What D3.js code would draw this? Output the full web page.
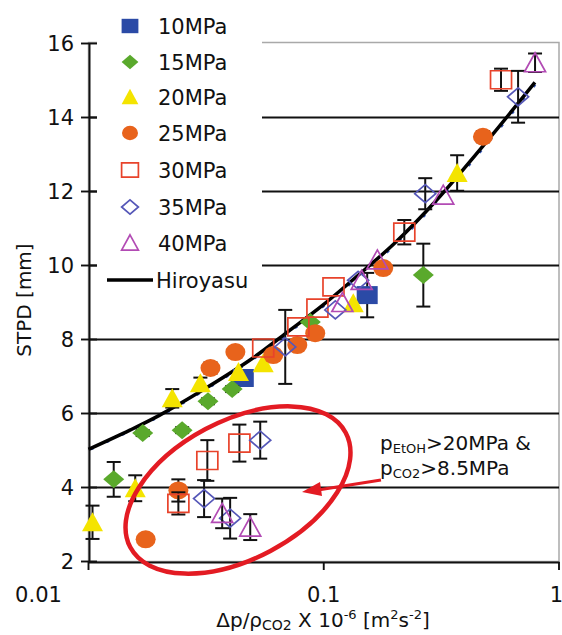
<!DOCTYPE html>
<html><head><meta charset="utf-8">
<script src="https://cdn.jsdelivr.net/npm/d3@7"></script>
<style>body{margin:0;background:#fff}svg{display:block}text{font-family:"DejaVu Sans",sans-serif;fill:#111}</style>
</head><body><svg id="c" width="562" height="635"></svg>
<script>
// ---------- data ----------
const seriesNames = ["10MPa","15MPa","20MPa","25MPa","30MPa","35MPa","40MPa"];
// each point: [Δp/ρ (x), STPD mm (y), error half-width]
const s10 = [[0.0455,6.96,0],[0.153,9.2,0.6]];
const s15 = [[0.0128,4.22,0.47],[0.0170,5.47,0.08],[0.025,5.55,0.08],[0.0322,6.33,0.08],[0.0408,6.66,0.08],[0.0877,8.47,0],[0.265,9.74,0.85]];
const s20 = [[0.0104,3.06,0.45],[0.0158,3.98,0.35],[0.0227,6.41,0.25],[0.0299,6.82,0.15],[0.0434,7.12,0],[0.0553,7.36,0],[0.1335,8.98,0],[0.369,12.5,0.48]];
const s25 = [[0.0175,2.6,0.1],[0.0241,3.92,0.3],[0.033,7.23,0.15],[0.0421,7.66,0.1],[0.061,7.58,0],[0.0772,7.85,0],[0.092,8.17,0.1],[0.179,9.93,0.1],[0.475,13.48,0.15]];
const s30 = [[0.0241,3.57,0.3],[0.032,4.73,0.55],[0.0438,5.2,0.5],[0.0553,7.77,0],[0.078,8.34,0],[0.094,8.85,0],[0.11,9.42,0],[0.22,10.9,0.33],[0.567,15.02,0.3]];
const s35 = [[0.031,3.7,0.5],[0.040,3.17,0.55],[0.0537,5.28,0.5],[0.0686,7.8,1.0],[0.112,8.8,0],[0.14,9.6,0],[0.27,11.94,0.42],[0.670,14.56,0.7]];
const s40 = [[0.037,3.3,0.4],[0.0487,2.93,0.35],[0.12,9.0,0],[0.145,9.6,0],[0.169,10.15,0],[0.322,11.9,0],[0.791,15.48,0.25]];
const hiroX = [0.01,0.015,0.02,0.03,0.05,0.07,0.1,0.15,0.2,0.3,0.5,0.79];
const hiroY = [5.03,5.55,5.95,6.6,7.5,8.2,8.95,9.9,10.6,11.75,13.4,14.95];
const yTicks = [2,4,6,8,10,12,14,16];
const xTicks = [0.01,0.1,1];
const xTickLabels = ["0.01","0.1","1"];

// ---------- styles ----------
const styles = [
  {shape:"square",fill:"#2b4aa6",stroke:"none"},
  {shape:"diamond",fill:"#5aa92c",stroke:"none"},
  {shape:"triangle",fill:"#f4e400",stroke:"none"},
  {shape:"circle",fill:"#e8631c",stroke:"none"},
  {shape:"square",fill:"none",stroke:"#e8432b"},
  {shape:"diamond",fill:"none",stroke:"#5557b8"},
  {shape:"triangle",fill:"none",stroke:"#b24bb4"}
];
const allSeries = [s10,s15,s20,s25,s30,s35,s40];

const svg = d3.select("#c");
const x = d3.scaleLog().domain([0.01,1]).range([88.5,559]);
const y = d3.scaleLinear().domain([2,16]).range([561.5,43.5]);

function shapePath(shape,w,h){
  const a=w/2,b=h/2;
  if(shape==="square") return `M${-a},${-b}H${a}V${b}H${-a}Z`;
  if(shape==="diamond") return `M0,${-b}L${a},0L0,${b}L${-a},0Z`;
  if(shape==="triangle") return `M0,${-b-1}L${a},${b}L${-a},${b}Z`;
  return `M${-a},0A${a},${b} 0 1,0 ${a},0A${a},${b} 0 1,0 ${-a},0Z`;
}
function drawMarker(g,st,cx,cy,scale){
  const w=(st.shape==="circle"?20:21)*scale, h=18*scale;
  g.append("path").attr("d",shapePath(st.shape,w,h))
   .attr("transform",`translate(${cx},${cy})`)
   .attr("fill",st.fill).attr("stroke",st.stroke==="none"?"none":st.stroke)
   .attr("stroke-width",1.7);
}

// frame
svg.append("rect").attr("x",88.5).attr("y",42.5).attr("width",470.5).attr("height",519)
  .attr("fill","none").attr("stroke","#a9a9a9").attr("stroke-width",1.5);

// grid lines
svg.append("g").selectAll("line").data(yTicks.filter(v=>v>2&&v<16)).join("line")
  .attr("x1",89).attr("x2",559).attr("y1",d=>y(d)).attr("y2",d=>y(d))
  .attr("stroke","#111").attr("stroke-width",1.9);

// legend background (covers grid lines)
svg.append("rect").attr("x",97).attr("y",6).attr("width",165).attr("height",292).attr("fill","#fff");

// axes
svg.append("line").attr("x1",89.5).attr("x2",89.5).attr("y1",43).attr("y2",562.5).attr("stroke","#111").attr("stroke-width",2);
svg.append("line").attr("x1",89).attr("x2",559.5).attr("y1",562.5).attr("y2",562.5).attr("stroke","#111").attr("stroke-width",2);
svg.append("g").selectAll("line").data(yTicks).join("line")
  .attr("x1",81).attr("x2",97).attr("y1",d=>y(d)).attr("y2",d=>y(d)).attr("stroke","#111").attr("stroke-width",1.9);
svg.append("g").selectAll("text").data(yTicks).join("text")
  .attr("x",74).attr("y",d=>y(d)+7.5).attr("text-anchor","end").attr("font-size",21).text(d=>d);
svg.append("g").selectAll("line").data(xTicks).join("line")
  .attr("x1",d=>x(d)).attr("x2",d=>x(d)).attr("y1",562).attr("y2",570).attr("stroke","#111").attr("stroke-width",1.9);
svg.append("g").selectAll("text").data(xTicks).join("text")
  .attr("x",d=>x(d)).attr("y",602).attr("text-anchor",(d,i)=>i===2?"end":"middle")
  .attr("dx",(d,i)=>i===2?4:(i===0?-50:0))
  .attr("font-size",21).text((d,i)=>xTickLabels[i]);

// axis titles
svg.append("text").attr("transform","translate(31,300) rotate(-90)").attr("text-anchor","middle")
  .attr("font-size",20).text("STPD [mm]");
const xt = svg.append("text").attr("x",323).attr("y",627).attr("text-anchor","middle").attr("font-size",20);
xt.append("tspan").text("Δp/ρ");
xt.append("tspan").attr("font-size",14).attr("dy",3).text("CO2");
xt.append("tspan").attr("dy",-3).text(" X 10");
xt.append("tspan").attr("font-size",13).attr("dy",-8).text("-6");
xt.append("tspan").attr("dy",8).text(" [m");
xt.append("tspan").attr("font-size",13).attr("dy",-8).text("2");
xt.append("tspan").attr("dy",8).text("s");
xt.append("tspan").attr("font-size",13).attr("dy",-8).text("-2");
xt.append("tspan").attr("dy",8).text("]");

// Hiroyasu curve
const hiro = hiroX.map((v,i)=>[v,hiroY[i]]);
svg.append("path").datum(hiro)
  .attr("d",d3.line().x(d=>x(d[0])+2.5).y(d=>y(d[1])).curve(d3.curveCatmullRom))
  .attr("fill","none").attr("stroke","#3050b0").attr("stroke-width",2).attr("stroke-dasharray","3 14");
svg.append("path").datum(hiro)
  .attr("d",d3.line().x(d=>x(d[0])).y(d=>y(d[1])).curve(d3.curveCatmullRom))
  .attr("fill","none").attr("stroke","#000").attr("stroke-width",3.5);

// series: error bars + markers
allSeries.forEach((data,si)=>{
  const g = svg.append("g");
  data.forEach(p=>{
    if(p[2]>0){
      const cx=x(p[0]), y1=y(p[1]+p[2]), y2=y(p[1]-p[2]);
      g.append("line").attr("x1",cx).attr("x2",cx).attr("y1",y1).attr("y2",y2).attr("stroke","#111").attr("stroke-width",2);
      [y1,y2].forEach(yy=>g.append("line").attr("x1",cx-7).attr("x2",cx+7).attr("y1",yy).attr("y2",yy).attr("stroke","#111").attr("stroke-width",2));
    }
  });
  data.forEach(p=>drawMarker(g,styles[si],x(p[0]),y(p[1]),1));
});

// legend
const rowY = [26,62,97,133,170,207,243,280];
seriesNames.forEach((n,i)=>{
  drawMarker(svg,styles[i],130,rowY[i],0.8);
  svg.append("text").attr("x",158).attr("y",rowY[i]+7.5).attr("font-size",21).text(n);
});
svg.append("line").attr("x1",107).attr("x2",153).attr("y1",rowY[7]).attr("y2",rowY[7]).attr("stroke","#000").attr("stroke-width",3.5);
svg.append("text").attr("x",156).attr("y",rowY[7]+7.5).attr("font-size",21).text("Hiroyasu");

// annotation: ellipse + arrow + text
svg.append("ellipse").attr("cx",238).attr("cy",490).attr("rx",122).attr("ry",69)
  .attr("transform","rotate(-28,238,490)").attr("fill","none").attr("stroke","#e31b23").attr("stroke-width",4.5);
svg.append("line").attr("x1",381).attr("y1",480).attr("x2",318).attr("y2",490).attr("stroke","#e31b23").attr("stroke-width",3);
svg.append("path").attr("d","M302,492 L320,482 L322,496 Z").attr("fill","#e31b23");
const t1 = svg.append("text").attr("x",380).attr("y",450).attr("font-size",20);
t1.append("tspan").text("p");
t1.append("tspan").attr("font-size",13).attr("dy",3).text("EtOH");
t1.append("tspan").attr("dy",-3).text(">20MPa &");
const t2 = svg.append("text").attr("x",380).attr("y",475).attr("font-size",20);
t2.append("tspan").text("p");
t2.append("tspan").attr("font-size",13).attr("dy",3).text("CO2");
t2.append("tspan").attr("dy",-3).text(">8.5MPa");
</script></body></html>
